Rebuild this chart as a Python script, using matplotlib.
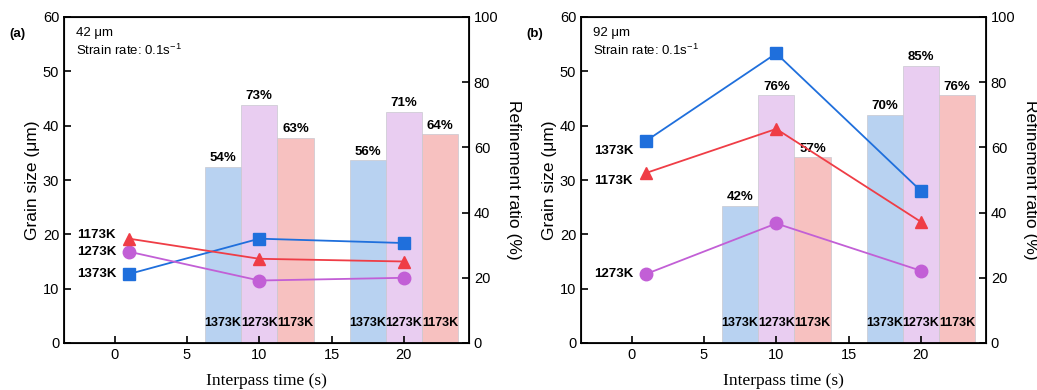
import matplotlib.pyplot as plt

plt.rcParams['font.family'] = ['Liberation Sans', 'DejaVu Sans']
plt.rcParams['mathtext.fontset'] = 'custom'
plt.rcParams['mathtext.rm'] = 'Liberation Sans'

# line data (grain size, um)
times = [1, 10, 20]
temps = ['1373K', '1273K', '1173K']

a_1373 = [12.7, 19.2, 18.4]
a_1273 = [16.8, 11.5, 12.0]
a_1173 = [19.2, 15.5, 15.0]

b_1373 = [37.2, 53.3, 28.0]
b_1273 = [12.7, 22.0, 13.3]
b_1173 = [31.3, 39.4, 22.3]

# bar data (refinement ratio, %)
bar_groups = [10, 20]
a_ratio = {'1373K': [54, 56], '1273K': [73, 71], '1173K': [63, 64]}
b_ratio = {'1373K': [42, 70], '1273K': [76, 85], '1173K': [57, 76]}

line_col = {'1373K': '#1f6fdc', '1273K': '#c25fd6', '1173K': '#ef3d46'}
bar_col = {'1373K': '#b8d2f1', '1273K': '#e9cdf1', '1173K': '#f7c1c0'}
marker = {'1373K': 's', '1273K': 'o', '1173K': '^'}
bar_w = 2.5
offsets = {'1373K': -2.5, '1273K': 0, '1173K': 2.5}

fig = plt.figure(figsize=(10.37, 3.9), dpi=100)


def panel(rect, lines, ratio, tag, size_txt, label_pos):
    ax = fig.add_axes(rect)
    ax2 = ax.twinx()
    ax.set_zorder(ax2.get_zorder() + 1)
    ax.patch.set_visible(False)

    for t in temps:
        xs = [g + offsets[t] for g in bar_groups]
        ax2.bar(xs, ratio[t], width=bar_w, color=bar_col[t],
                edgecolor='#c8c8d0', linewidth=0.5)
        for x, v in zip(xs, ratio[t]):
            ax2.text(x, v + 0.8, '%d%%' % v, ha='center', va='bottom',
                     fontsize=9.5, fontweight='bold')
            ax2.text(x, 6, t, ha='center', va='center',
                     fontsize=9, fontweight='bold')

    for t in temps:
        ax.plot(times, lines[t], color=line_col[t], marker=marker[t],
                markersize=9, linewidth=1.3)
    for t, y in label_pos:
        ax.text(0.1, y, t, ha='right', va='center', fontsize=9.5,
                fontweight='bold')

    ax.set_xlim(-3.5, 24.5)
    ax.set_ylim(0, 60)
    ax2.set_ylim(0, 100)
    ax.set_xticks([0, 5, 10, 15, 20])
    ax.set_yticks(range(0, 61, 10))
    ax2.set_yticks(range(0, 101, 20))
    ax.tick_params(direction='in', labelsize=10.5, width=1.2, length=5)
    ax2.tick_params(direction='in', labelsize=10.5, width=1.2, length=5)
    for sp in ax.spines.values():
        sp.set_linewidth(1.3)
    ax.set_xlabel('Interpass time (s)', family='Liberation Serif',
                  fontsize=12.5, labelpad=8)
    ax.set_ylabel('Grain size (\u03bcm)', fontsize=12.5, labelpad=2)
    ax2.set_ylabel('Refinement ratio (%)', fontsize=12.5, rotation=270,
                   labelpad=16)
    ax.text(0.03, 0.97, size_txt, transform=ax.transAxes, fontsize=9.5,
            va='top')
    ax.text(0.03, 0.875, 'Strain rate: 0.1s$^{-1}$', transform=ax.transAxes,
            fontsize=9.5, va='bottom')
    ax.text(-0.135, 0.93, tag, transform=ax.transAxes, fontsize=9.5,
            fontweight='bold', va='bottom')


panel([64 / 1037, 47 / 390, 405 / 1037, 326 / 390],
      {'1373K': a_1373, '1273K': a_1273, '1173K': a_1173},
      a_ratio, '(a)', '42 \u03bcm',
      [('1173K', 19.8), ('1273K', 16.8), ('1373K', 12.7)])
panel([581 / 1037, 47 / 390, 405 / 1037, 326 / 390],
      {'1373K': b_1373, '1273K': b_1273, '1173K': b_1173},
      b_ratio, '(b)', '92 \u03bcm',
      [('1373K', 35.4), ('1173K', 29.8), ('1273K', 12.7)])

fig.savefig('out.png', dpi=100)
